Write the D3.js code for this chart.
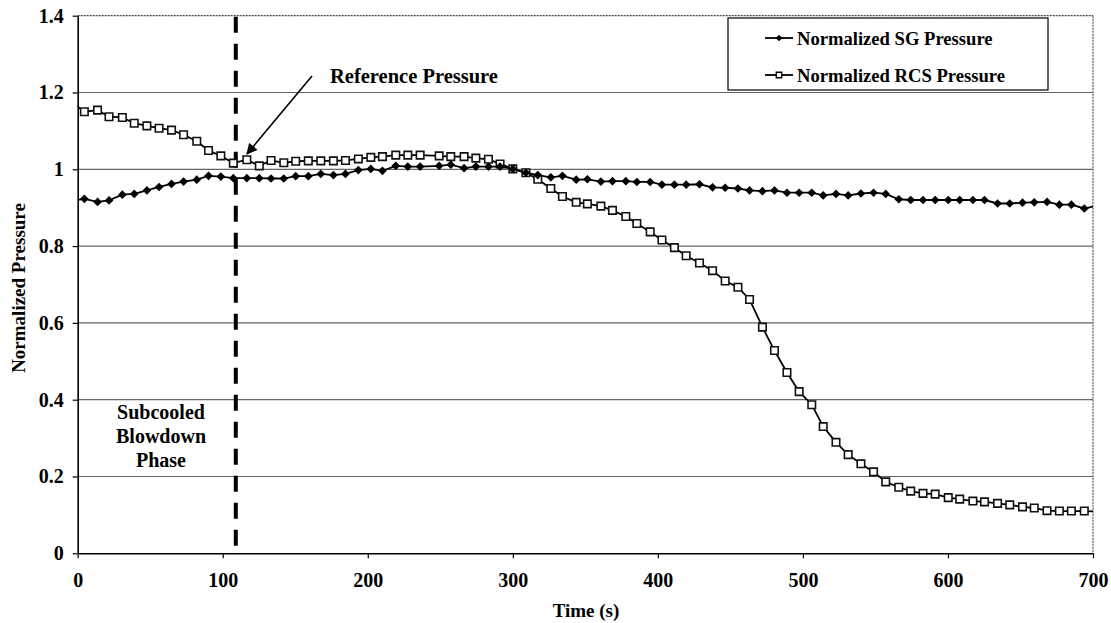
<!DOCTYPE html>
<html>
<head>
<meta charset="utf-8">
<script src="https://cdn.jsdelivr.net/npm/d3@7"></script>
<style>
html,body{margin:0;padding:0;background:#fff;}
svg{display:block;font-family:"Liberation Serif","Times New Roman",serif;font-weight:bold;}
</style>
</head>
<body>
<svg id="chart" width="1111" height="623"></svg>
<script>
// ---- data ----
const times = [-4, 4.6, 13.7, 21.6, 30.8, 39.0, 47.7, 56.1, 64.7, 73.0, 82.1, 90.2, 98.7, 107.3, 116.6, 125.2, 133.3, 142.1, 150.3, 159.0, 167.6, 176.3, 184.6, 193.5, 202.1,
  210.1, 219.3, 227.6, 236.1, 249.2, 257.2, 266.4, 274.5, 283.2, 291.2, 300.0, 309.0, 317.2, 326.2, 334.2, 343.7, 351.4, 360.7, 368.7, 377.9, 385.5, 394.7, 402.8, 411.4, 419.5, 428.7, 437.7, 446.4, 455.2,
  463.2, 472.1, 480.4, 489.0, 497.4, 506.1, 514.0, 522.8, 531.2, 540.0, 548.7, 557.1, 566.1, 574.3, 582.8, 591.2, 600.2, 608.1, 617.2, 625.2, 634.2, 642.6, 651.4, 659.5, 668.3, 676.8, 685.1, 694.0, 704];
const sgPressure = [0.918, 0.923, 0.915, 0.919, 0.934, 0.936, 0.945, 0.954, 0.962, 0.968, 0.973, 0.983, 0.981, 0.977, 0.977, 0.977, 0.976, 0.976, 0.982, 0.982, 0.988, 0.985, 0.988, 0.998, 1.001,
  0.996, 1.009, 1.007, 1.007, 1.009, 1.012, 1.003, 1.007, 1.007, 1.007, 1.001, 0.991, 0.985, 0.979, 0.983, 0.973, 0.974, 0.968, 0.969, 0.969, 0.967, 0.967, 0.960, 0.960, 0.960, 0.961, 0.953, 0.952, 0.950,
  0.945, 0.943, 0.945, 0.939, 0.939, 0.939, 0.932, 0.936, 0.932, 0.937, 0.939, 0.936, 0.922, 0.920, 0.920, 0.920, 0.920, 0.920, 0.920, 0.920, 0.911, 0.911, 0.913, 0.914, 0.915, 0.908, 0.908, 0.898, 0.906];
const rcsPressure = [1.174, 1.150, 1.154, 1.137, 1.135, 1.120, 1.113, 1.107, 1.102, 1.090, 1.073, 1.049, 1.035, 1.016, 1.025, 1.009, 1.023, 1.017, 1.021, 1.022, 1.022, 1.022, 1.023, 1.027, 1.031,
  1.033, 1.037, 1.037, 1.037, 1.035, 1.033, 1.033, 1.029, 1.026, 1.014, 1.001, 0.991, 0.974, 0.950, 0.929, 0.914, 0.910, 0.904, 0.893, 0.877, 0.859, 0.837, 0.816, 0.796, 0.775, 0.756, 0.736, 0.709, 0.693,
  0.661, 0.589, 0.528, 0.471, 0.421, 0.387, 0.330, 0.289, 0.257, 0.233, 0.212, 0.186, 0.172, 0.162, 0.156, 0.154, 0.145, 0.141, 0.136, 0.134, 0.130, 0.126, 0.121, 0.118, 0.111, 0.110, 0.110, 0.110, 0.109];
const xTicks = [0, 100, 200, 300, 400, 500, 600, 700];
const yTicks = [0, 0.2, 0.4, 0.6, 0.8, 1.0, 1.2, 1.4];
const yTickLabels = ["0", "0.2", "0.4", "0.6", "0.8", "1", "1.2", "1.4"];
const seriesNames = ["Normalized SG Pressure", "Normalized RCS Pressure"];
const referenceTime = 109;
const referenceLabel = "Reference Pressure";
const phaseLabel = ["Subcooled", "Blowdown", "Phase"];
const xTitle = "Time (s)";
const yTitle = "Normalized Pressure";

// ---- layout ----
const L = 77.7, R = 1093, T = 15.7, B = 553.3;
const x = d3.scaleLinear().domain([0, 700]).range([L, R]);
const y = d3.scaleLinear().domain([0, 1.4]).range([B, T]);
const svg = d3.select("#chart");

// diamond symbol (square rotated 45deg)
const diamondType = {
  draw(ctx, size) {
    const r = Math.sqrt(size) * 0.62625;
    ctx.moveTo(0, -r); ctx.lineTo(r, 0); ctx.lineTo(0, r); ctx.lineTo(-r, 0); ctx.closePath();
  }
};

// gridlines
svg.append("g").selectAll("line").data(yTicks.filter(v => v > 0 && v < 1.4)).join("line")
  .attr("x1", L).attr("x2", R).attr("y1", d => y(d)).attr("y2", d => y(d))
  .attr("stroke", "#666").attr("stroke-width", 1.2);
// top border & right border (dotted)
svg.append("line").attr("x1", L).attr("x2", R).attr("y1", y(1.4)).attr("y2", y(1.4))
  .attr("stroke", "#444").attr("stroke-width", 1.3).attr("stroke-dasharray", "2,1");
svg.append("line").attr("x1", R).attr("x2", R).attr("y1", T).attr("y2", B)
  .attr("stroke", "#666").attr("stroke-width", 1.3).attr("stroke-dasharray", "2,1");

// axes
const xAxis = svg.append("g").attr("transform", `translate(0,${B})`)
  .call(d3.axisBottom(x).tickValues(xTicks).tickSize(5).tickSizeOuter(0).tickPadding(15).tickFormat(d3.format("d")));
const yAxis = svg.append("g").attr("transform", `translate(${L},0)`)
  .call(d3.axisLeft(y).tickValues(yTicks).tickSize(5).tickSizeOuter(0).tickPadding(9)
    .tickFormat((d, i) => yTickLabels[i]));
[xAxis, yAxis].forEach(g => {
  g.selectAll("path.domain").attr("stroke", "#000").attr("stroke-width", 1.6);
  g.selectAll(".tick line").attr("stroke", "#000").attr("stroke-width", 1.2);
  g.selectAll("text").attr("fill", "#000").style("font-family", "'Liberation Serif',serif")
    .style("font-weight", "bold").style("font-size", "20px");
});

// axis titles
svg.append("text").attr("x", 586).attr("y", 617).attr("text-anchor", "middle")
  .style("font-size", "19px").text(xTitle);
svg.append("text").attr("transform", `translate(25,288) rotate(-90)`)
  .attr("text-anchor", "middle").style("font-size", "19px").text(yTitle);

// clip
svg.append("clipPath").attr("id", "plotclip").append("rect")
  .attr("x", L).attr("y", T - 10).attr("width", R - L).attr("height", B - T + 10);
const plot = svg.append("g").attr("clip-path", "url(#plotclip)");

// reference dashed line
plot.append("line").attr("x1", x(referenceTime)).attr("x2", x(referenceTime)).attr("y1", T + 1).attr("y2", B)
  .attr("stroke", "#000").attr("stroke-width", 4).attr("stroke-dasharray", "16,11");

const line = d3.line().x((d, i) => x(times[i])).y(d => y(d));
plot.append("path").datum(sgPressure).attr("d", line).attr("fill", "none").attr("stroke", "#000").attr("stroke-width", 1.8);
plot.append("path").datum(rcsPressure).attr("d", line).attr("fill", "none").attr("stroke", "#000").attr("stroke-width", 1.8);

plot.append("g").selectAll("path").data(rcsPressure).join("path")
  .attr("transform", (d, i) => `translate(${x(times[i])},${y(d)})`)
  .attr("d", d3.symbol(d3.symbolSquare, 56)())
  .attr("fill", "#fff").attr("stroke", "#111").attr("stroke-width", 1.6);
plot.append("g").selectAll("path").data(sgPressure).join("path")
  .attr("transform", (d, i) => `translate(${x(times[i])},${y(d)})`)
  .attr("d", d3.symbol(diamondType, 48)())
  .attr("fill", "#000");

// annotations
svg.append("text").attr("x", 330).attr("y", 83).style("font-size", "20.5px").text(referenceLabel);
svg.append("defs").append("marker").attr("id", "arrowhead").attr("viewBox", "0 0 10 10")
  .attr("refX", 9).attr("refY", 5).attr("markerWidth", 12).attr("markerHeight", 11)
  .attr("orient", "auto").attr("markerUnits", "userSpaceOnUse")
  .append("path").attr("d", "M0,0 L10,5 L0,10 z").attr("fill", "#000");
svg.append("line").attr("x1", 312).attr("y1", 76).attr("x2", 247).attr("y2", 154)
  .attr("stroke", "#000").attr("stroke-width", 1.6).attr("marker-end", "url(#arrowhead)");

svg.append("text").attr("text-anchor", "middle").style("font-size", "20px")
  .selectAll("tspan").data(phaseLabel).join("tspan")
  .attr("x", 161).attr("y", (d, i) => 419 + i * 24).text(d => d);

// legend
const lg = svg.append("g");
lg.append("rect").attr("x", 728).attr("y", 18).attr("width", 320).attr("height", 72)
  .attr("fill", "#fff").attr("stroke", "#000").attr("stroke-width", 1.2);
const legY = [38, 75];
seriesNames.forEach((name, i) => {
  lg.append("line").attr("x1", 765).attr("x2", 793).attr("y1", legY[i]).attr("y2", legY[i])
    .attr("stroke", "#000").attr("stroke-width", 1.8);
  lg.append("path").attr("transform", `translate(779,${legY[i]})`)
    .attr("d", i === 0 ? d3.symbol(diamondType, 28)() : d3.symbol(d3.symbolSquare, 30)())
    .attr("fill", i === 0 ? "#000" : "#fff").attr("stroke", "#000").attr("stroke-width", i === 0 ? 0 : 1.3);
  lg.append("text").attr("x", 797).attr("y", legY[i]).attr("dy", "0.35em")
    .style("font-size", "18.6px").text(name);
});
</script>
</body>
</html>
